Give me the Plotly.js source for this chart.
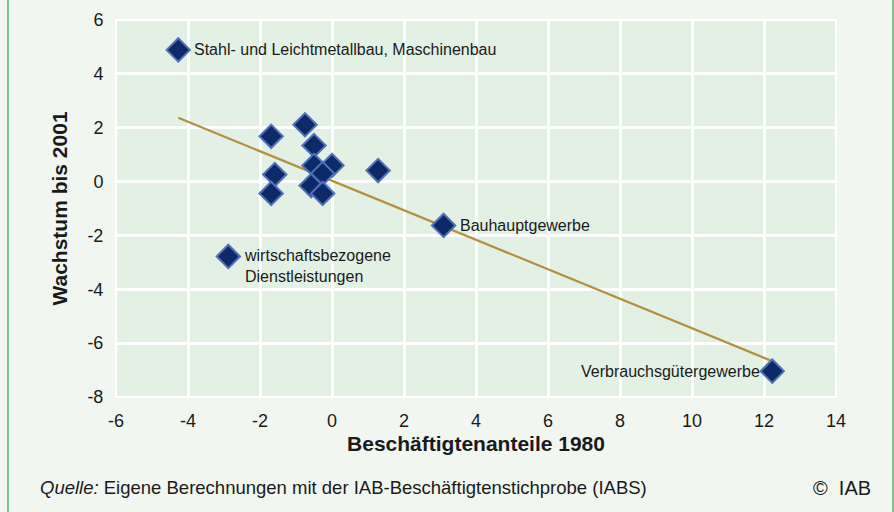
<!DOCTYPE html>
<html>
<head>
<meta charset="utf-8">
<script src="https://cdn.plot.ly/plotly-3.0.1.min.js"></script>
<style>
html,body{margin:0;padding:0;background:#f1f6f1;}
#wrap{position:relative;width:894px;height:512px;overflow:hidden;background:#f1f6f1;}
#chart{position:absolute;left:0;top:0;width:894px;height:512px;}
.vline{position:absolute;top:0;width:2px;height:512px;background:#7cc48c;}
</style>
</head>
<body>
<div id="wrap">
<div id="chart"></div>
<div class="vline" style="left:7px"></div>
<div class="vline" style="left:892px"></div>
</div>
<script>
// Data
const pointX = [-4.27, -1.69, -0.75, -0.50, -0.50, 0.00, -1.59, -0.26, -0.58, -1.69, -0.26, 1.28, 3.10, -2.88, 12.23];
const pointY = [4.89, 1.68, 2.11, 1.34, 0.60, 0.60, 0.26, 0.30, -0.15, -0.44, -0.44, 0.41, -1.63, -2.78, -7.04];
const trendX = [-4.27, 12.23];
const trendY = [2.37, -6.67];
const labelNames = ["Stahl- und Leichtmetallbau, Maschinenbau", "Bauhauptgewerbe", "wirtschaftsbezogene<br>Dienstleistungen", "Verbrauchsgütergewerbe"];
const labelX = [-4.27, 3.10, -2.88, 12.23];
const labelY = [4.89, -1.63, -2.78, -7.04];
const labelSide = ["right", "right", "right", "left"];
const xTicks = [-6, -4, -2, 0, 2, 4, 6, 8, 10, 12, 14];
const yTicks = [-8, -6, -4, -2, 0, 2, 4, 6];
const xTitle = "Beschäftigtenanteile 1980";
const yTitle = "Wachstum bis 2001";
const sourceText = "<i>Quelle:</i> Eigene Berechnungen mit der IAB-Beschäftigtenstichprobe (IABS)";
const copyrightText = "©  IAB";

const FONT = "Liberation Sans, Arial, sans-serif";

const traces = [
  {
    x: trendX, y: trendY, mode: "lines", type: "scatter",
    line: {color: "#b38f3e", width: 2.2}, hoverinfo: "skip", showlegend: false
  },
  {
    x: pointX, y: pointY, mode: "markers", type: "scatter",
    marker: {symbol: "diamond", size: 18, color: "#0c2a68", line: {color: "#5271ba", width: 2}},
    showlegend: false
  }
];

const annotations = labelNames.map((t, i) => ({
  x: labelX[i], y: labelY[i], xref: "x", yref: "y",
  text: t, showarrow: false,
  xanchor: labelSide[i] === "right" ? "left" : "right",
  yanchor: "middle", align: "left",
  xshift: labelSide[i] === "right" ? 14 : -10,
  yshift: labelNames[i].indexOf("<br>") >= 0 ? -10 : 0,
  font: {family: FONT, size: 16, color: "#1a1a1a"}
}));
annotations.push({
  xref: "paper", yref: "paper", x: -0.108, y: -0.241, xanchor: "left", yanchor: "middle",
  text: sourceText, showarrow: false, font: {family: FONT, size: 18.5, color: "#1a1a1a"}
});
annotations.push({
  xref: "paper", yref: "paper", x: 1.051, y: -0.241, xanchor: "right", yanchor: "middle",
  text: copyrightText, showarrow: false, font: {family: FONT, size: 20, color: "#1a1a1a"}
});

const layout = {
  width: 894, height: 512,
  margin: {l: 116, r: 58, t: 20, b: 115},
  paper_bgcolor: "rgba(0,0,0,0)",
  plot_bgcolor: "#e3f1e5",
  font: {family: FONT, size: 18, color: "#1a1a1a"},
  xaxis: {
    range: [-6, 14], tickvals: xTicks, ticktext: xTicks.map(String),
    showgrid: true, gridcolor: "#ffffff", gridwidth: 3, zeroline: false,
    showline: false, ticks: "outside", ticklen: 7, tickcolor: "rgba(0,0,0,0)",
    tickfont: {family: FONT, size: 18, color: "#1a1a1a"},
    title: {text: "<b>" + xTitle + "</b>", font: {family: FONT, size: 21, color: "#1a1a1a"}, standoff: 6}
  },
  yaxis: {
    range: [-8, 6], tickvals: yTicks, ticktext: yTicks.map(String),
    showgrid: true, gridcolor: "#ffffff", gridwidth: 3, zeroline: false,
    showline: false, ticks: "outside", ticklen: 8, tickcolor: "rgba(0,0,0,0)",
    tickfont: {family: FONT, size: 18, color: "#1a1a1a"},
    title: {text: "<b>" + yTitle + "</b>", font: {family: FONT, size: 21, color: "#1a1a1a"}, standoff: 14}
  },
  shapes: [
    {type: "rect", xref: "paper", yref: "paper", x0: 0, x1: 1, y0: 0, y1: 1, line: {color: "#ffffff", width: 2}, layer: "below"}
  ],
  annotations: annotations
};

Plotly.newPlot("chart", traces, layout, {displayModeBar: false, staticPlot: true});
</script>
</body>
</html>
